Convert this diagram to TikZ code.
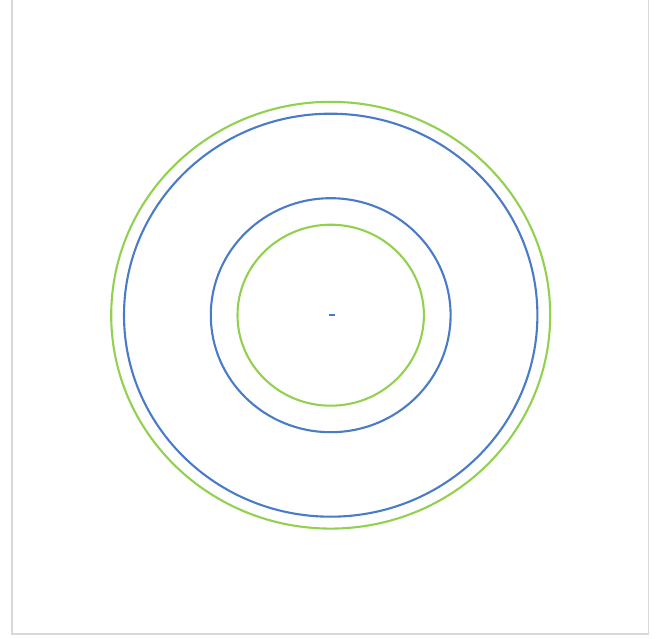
\documentclass[tikz,border=0pt]{standalone}
\usepackage{tikz}

\definecolor{gyuruzold}{HTML}{92D050}
\definecolor{gyurukek}{HTML}{4A7BC6}
\definecolor{keretszurke}{HTML}{D9D9D9}

\begin{document}
\begin{tikzpicture}[x=1pt, y=-1pt,
            zold/.style={draw=gyuruzold, line width=2.1pt},
            kek/.style={draw=gyurukek, line width=2.1pt},
            keret/.style={draw=keretszurke, line width=1.5pt}]
            % 1. Keret (bal, alsó, jobb oldal)
            \useasboundingbox (0,0) rectangle (662,639);
            \draw[keret] (11.8,0) -- (11.8,633.8) -- (648.3,633.8) -- (648.3,0);

            % 2. Középpont
            \coordinate (kozep) at (330.7,315.2);

            % 3. Körök kívülről befelé
            \draw[zold] (kozep) ellipse [x radius=219.5pt, y radius=213.4pt];
            \draw[kek]  (kozep) ellipse [x radius=206.7pt, y radius=201.5pt];
            \draw[kek]  (kozep) ellipse [x radius=119.9pt, y radius=117pt];
            \draw[zold] (kozep) ellipse [x radius=93.2pt, y radius=90.5pt];

            % 4. Kis jel a középen
            \draw[gyurukek, line width=1.5pt] ([xshift=-1.8pt]kozep) -- ([xshift=4.2pt]kozep);
        \end{tikzpicture}
\end{document}
